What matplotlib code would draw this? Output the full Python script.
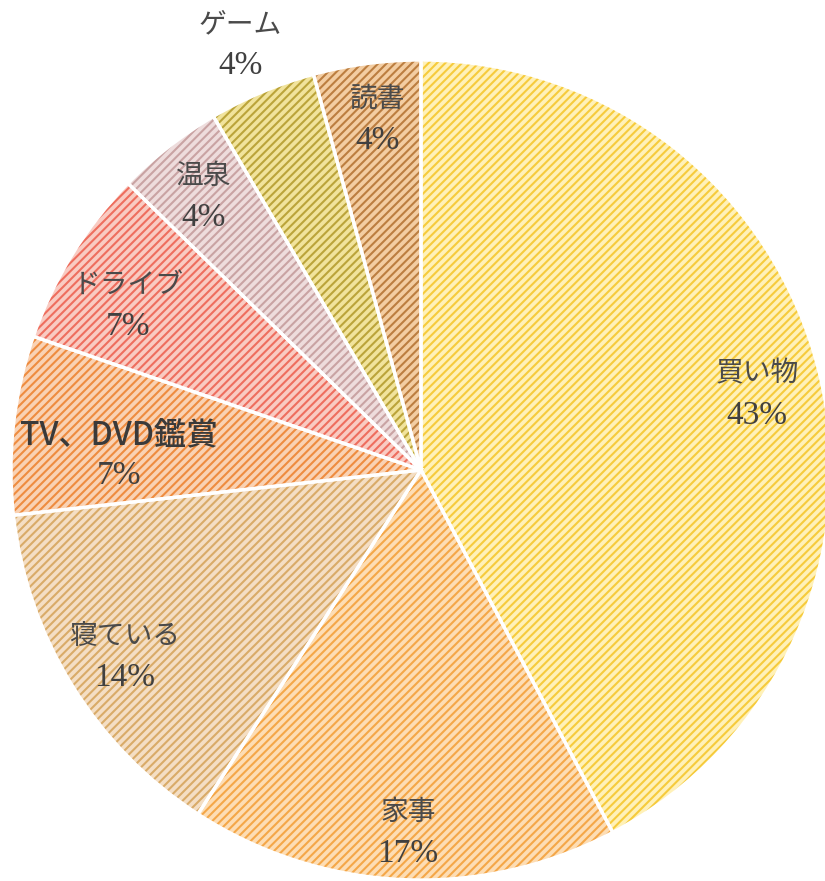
import numpy as np
import matplotlib.pyplot as plt

plt.rcParams['hatch.linewidth'] = 1.5

labels = ['買い物', '家事', '寝ている', 'TV、DVD鑑賞', 'ドライブ', '温泉', 'ゲーム', '読書']
values = [30, 12, 10, 5, 5, 3, 3, 3]
pct_text = ['43%', '17%', '14%', '7%', '7%', '4%', '4%', '4%']

face_colors = ['#FFF1B8', '#FDDDB4', '#F4DEC4', '#F9D2B4', '#F9CBC2', '#EEDCDC', '#F1E39C', '#F3CDA2']
hatch_colors = ['#F6CB3C', '#F4A748', '#D9AB68', '#EE8C40', '#EE6E5E', '#C9A3A3', '#BBA43A', '#BC7E40']
label_r = [0.84, 0.88, 0.85, 0.74, 0.82, 0.85, 1.125, 0.86]
# small nudges (pixels, +y = down) so labels sit where the original chart put them
nudge = [(2, 7), (3, 2), (0, 3), (0, 18), (-7, 12), (-3, 1), (-2, 0), (3, -1)]

W, H = 825, 881
fig = plt.figure(figsize=(W / 100, H / 100), dpi=100)
ax = fig.add_axes([0, 0, 1, 1])

# hatched fill
wedges, _ = ax.pie(values, startangle=90, counterclock=False, radius=1,
                   colors=face_colors, wedgeprops=dict(linewidth=0))
for w, hc in zip(wedges, hatch_colors):
    w.set_hatch('////')
    w.set_edgecolor(hc)
    w.set_linewidth(0)

# white separators on top
ax.pie(values, startangle=90, counterclock=False, radius=1,
       colors=['none'] * len(values),
       wedgeprops=dict(linewidth=2.4, edgecolor='white', fill=False))

cx, cy, R = 421, 470, 410
ax.set_xlim(-cx / R, (W - cx) / R)
ax.set_ylim(-(H - cy) / R, cy / R)
ax.set_aspect('equal')
ax.axis('off')

for i, w in enumerate(wedges):
    ang = np.deg2rad((w.theta1 + w.theta2) / 2)
    x = label_r[i] * np.cos(ang) + nudge[i][0] / R
    y = label_r[i] * np.sin(ang) - nudge[i][1] / R
    if labels[i].startswith('TV'):
        ax.text(x, y + 0.045, labels[i], ha='center', va='center', fontsize=23,
                family=['Noto Sans CJK JP'], weight='medium', color='#3a3a3a')
    else:
        ax.text(x, y + 0.05, labels[i], ha='center', va='center', fontsize=20,
                family=['Noto Sans CJK JP'], color='#4a4a4a')
    ax.text(x, y - 0.052, pct_text[i], ha='center', va='center', fontsize=24,
            family=['Liberation Serif'], color='#404040')

fig.savefig('out.png', dpi=100)
